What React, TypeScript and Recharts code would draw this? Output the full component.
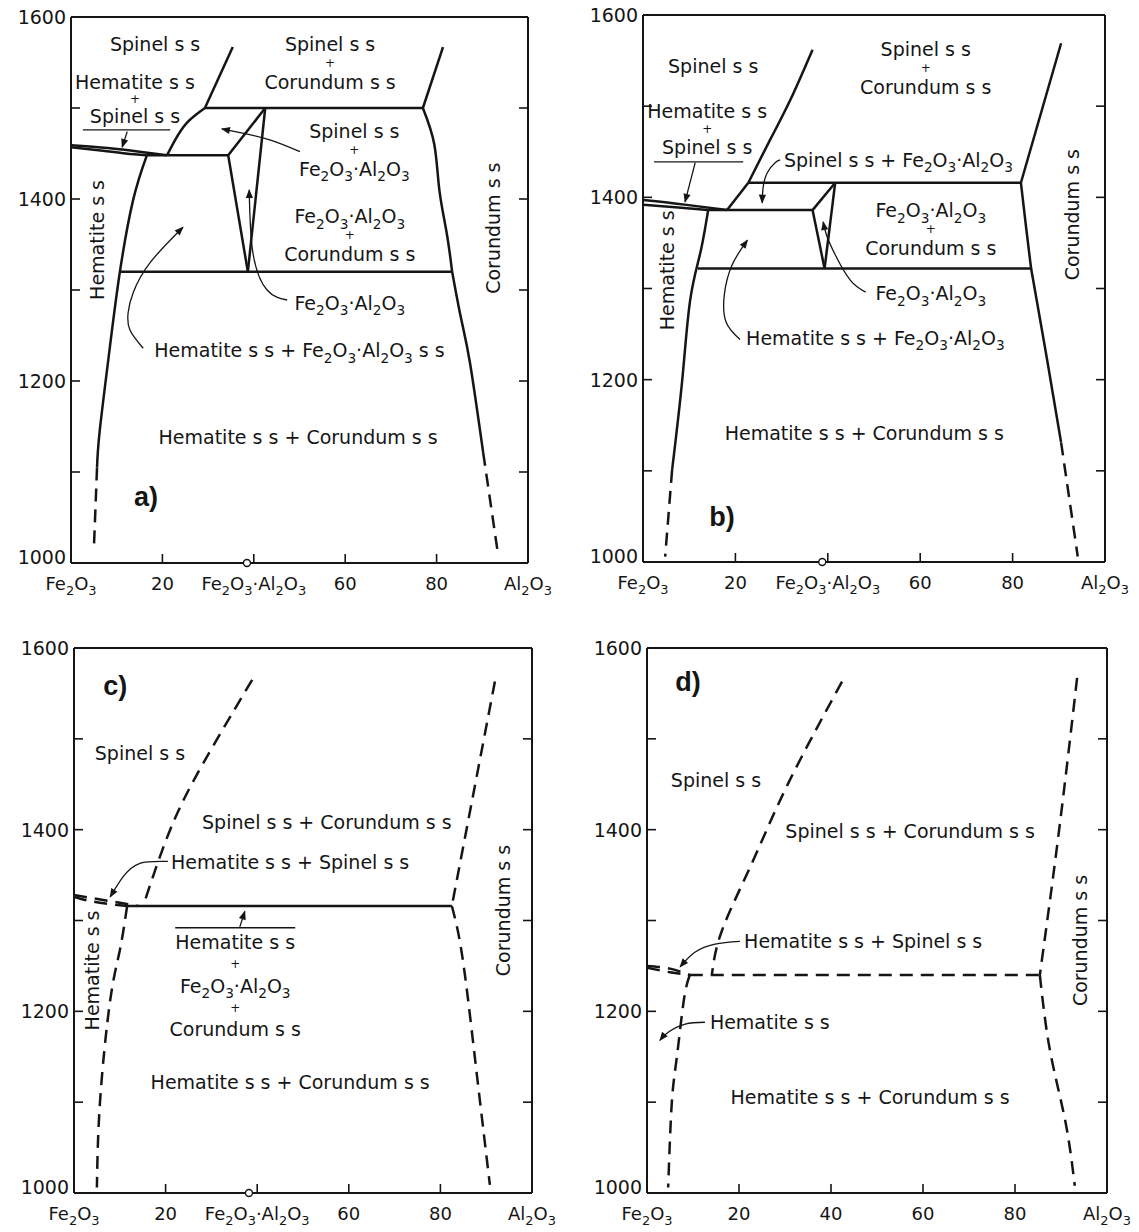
import React from 'react'
import { ComposedChart, Line, XAxis, YAxis, ReferenceDot } from 'recharts'

type Pt = [number, number]
type Kind = 'solid' | 'dash' | 'lead' | 'arrow'
interface Curve { d: Pt[]; kind: Kind; smooth?: boolean }
interface Tag { x: number; t: number; lines: string[]; rot?: boolean; big?: boolean; lh?: number }

const INK = '#151515'
const FONT = '"DejaVu Sans", sans-serif'

// axes
const xTicks = [0, 20, 40, 60, 80, 100]
const innerXTicks = [20, 40, 60, 80]
const yTicks = [1000, 1100, 1200, 1300, 1400, 1500, 1600]
const yLabelValues = [1000, 1200, 1400, 1600]
const xLabelsCompound = ['Fe2O3', '20', 'Fe2O3·Al2O3', '60', '80', 'Al2O3']
const xLabelsPlain = ['Fe2O3', '20', '40', '60', '80', 'Al2O3']

// ---- panel a (wt % Al2O3, °C) ----
const aSpinelUpper: Pt[] = [[35.4, 1567], [29.3, 1500]]
const aSpinelLower: Pt[] = [[29.3, 1500], [25.4, 1484], [22.8, 1465], [21.0, 1448]]
const aLensTop: Pt[] = [[0, 1459], [8, 1456], [15, 1452], [21.0, 1448]]
const aLensBottom: Pt[] = [[0, 1457], [7, 1453], [12, 1450], [16.6, 1448]]
const aLine1450: Pt[] = [[16.6, 1448], [34.4, 1448]]
const aHematite: Pt[] = [[16.6, 1448], [13.6, 1399], [10.7, 1320], [8.5, 1237], [6.3, 1146], [5.7, 1105]]
const aHematiteDash: Pt[] = [[5.7, 1105], [5.0, 1015]]
const aFAUpper: Pt[] = [[34.4, 1448], [42.5, 1500]]
const aFALeft: Pt[] = [[34.4, 1448], [38.7, 1320]]
const aFARight: Pt[] = [[42.5, 1500], [38.7, 1320]]
const aLine1500: Pt[] = [[29.3, 1500], [77, 1500]]
const aLine1320: Pt[] = [[10.7, 1320], [83.4, 1320]]
const aCorundumUpper: Pt[] = [[81.4, 1567], [77, 1500]]
const aCorundumMid: Pt[] = [[77, 1500], [79.5, 1460], [80.6, 1410], [82.2, 1363], [83.4, 1320]]
const aCorundumLow: Pt[] = [[83.4, 1320], [85.3, 1270], [87.3, 1220], [90.2, 1121]]
const aCorundumDash: Pt[] = [[90.2, 1121], [93.4, 1011]]
const aUnderline: Pt[] = [[2.6, 1476], [21.7, 1476]]
const aLeadLens: Pt[] = [[12.3, 1474], [11.2, 1457]]
const aLeadSpFA: Pt[] = [[50.1, 1452], [43.5, 1465], [37, 1473], [33.0, 1477]]
const aLeadFA: Pt[] = [[47.3, 1289], [42.9, 1300], [39.8, 1341], [39.0, 1410]]
const aLeadHemFA: Pt[] = [[15.8, 1236], [12.9, 1256], [12.5, 1275], [13.6, 1297], [17.3, 1330], [24.5, 1369]]

const aTags: Tag[] = [
  { x: 18.4, t: 1570, lines: ['Spinel s s'] },
  { x: 14.0, t: 1510, lines: ['Hematite s s', '+', 'Spinel s s'], lh: 17 },
  { x: 56.7, t: 1549, lines: ['Spinel s s', '+', 'Corundum s s'] },
  { x: 62, t: 1454, lines: ['Spinel s s', '+', 'Fe2O3·Al2O3'] },
  { x: 61, t: 1360, lines: ['Fe2O3·Al2O3', '+', 'Corundum s s'] },
  { x: 61, t: 1286, lines: ['Fe2O3·Al2O3'] },
  { x: 50, t: 1234, lines: ['Hematite s s + Fe2O3·Al2O3 s s'] },
  { x: 49.7, t: 1138, lines: ['Hematite s s + Corundum s s'] },
  { x: 5.7, t: 1355, lines: ['Hematite s s'], rot: true },
  { x: 92.3, t: 1368, lines: ['Corundum s s'], rot: true },
  { x: 16.4, t: 1073, lines: ['a)'], big: true },
]

// ---- panel b ----
const bSpinel: Pt[] = [[36.7, 1562], [31.9, 1507], [27.5, 1463], [22.8, 1416]]
const bSpinelLow: Pt[] = [[22.8, 1416], [18.2, 1386]]
const bLine1416: Pt[] = [[22.8, 1416], [81.8, 1416]]
const bLine1386: Pt[] = [[14.1, 1386], [36.7, 1386]]
const bLensTop: Pt[] = [[0, 1397], [9, 1392], [18.2, 1386]]
const bLensBottom: Pt[] = [[0, 1392], [7, 1389], [14.1, 1386]]
const bHematite: Pt[] = [[14.1, 1386], [12.4, 1339], [10.2, 1287], [8.5, 1200], [6.3, 1101]]
const bHematiteDash: Pt[] = [[6.3, 1101], [4.8, 1006]]
const bFAUpper: Pt[] = [[36.7, 1386], [41.6, 1416]]
const bFALeft: Pt[] = [[36.7, 1386], [39.3, 1322]]
const bFARight: Pt[] = [[41.6, 1416], [39.3, 1322]]
const bLine1322: Pt[] = [[11.9, 1322], [84.0, 1322]]
const bCorundumUpper: Pt[] = [[90.5, 1569], [81.8, 1416]]
const bCorundumMid: Pt[] = [[81.8, 1416], [82.9, 1368], [84.0, 1322]]
const bCorundumLow: Pt[] = [[84.0, 1322], [84.6, 1305], [87.6, 1218], [90.5, 1131]]
const bCorundumDash: Pt[] = [[90.5, 1131], [94.1, 1006]]
const bUnderline: Pt[] = [[2.4, 1439], [21.7, 1439]]
const bLeadLens: Pt[] = [[11.3, 1438], [9.1, 1395]]
const bLeadSpFA: Pt[] = [[29.7, 1441], [28.6, 1438], [26.9, 1427], [26.0, 1411], [25.8, 1394]]
const bLeadFA: Pt[] = [[48.2, 1296], [44.9, 1309], [41.6, 1337], [39.7, 1359], [39.0, 1373]]
const bLeadHemFA: Pt[] = [[21.0, 1244], [18.0, 1263], [17.6, 1293], [19.3, 1326], [22.6, 1353]]

const bTags: Tag[] = [
  { x: 15.2, t: 1544, lines: ['Spinel s s'] },
  { x: 13.9, t: 1475, lines: ['Hematite s s', '+', 'Spinel s s'], lh: 18 },
  { x: 61.2, t: 1542, lines: ['Spinel s s', '+', 'Corundum s s'] },
  { x: 55.3, t: 1441, lines: ['Spinel s s + Fe2O3·Al2O3'] },
  { x: 62.3, t: 1365, lines: ['Fe2O3·Al2O3', '+', 'Corundum s s'] },
  { x: 62.3, t: 1295, lines: ['Fe2O3·Al2O3'] },
  { x: 50.3, t: 1246, lines: ['Hematite s s + Fe2O3·Al2O3'] },
  { x: 47.9, t: 1141, lines: ['Hematite s s + Corundum s s'] },
  { x: 5.2, t: 1320, lines: ['Hematite s s'], rot: true },
  { x: 92.8, t: 1381, lines: ['Corundum s s'], rot: true },
  { x: 17.1, t: 1050, lines: ['b)'], big: true },
]

// ---- panel c ----
const cSpinelDash: Pt[] = [[38.9, 1565], [28.2, 1473], [21, 1400], [15.1, 1316]]
const cLine1316: Pt[] = [[11.6, 1316], [82.5, 1316]]
const cLensTop: Pt[] = [[0, 1328], [7, 1322], [14, 1316]]
const cLensBottom: Pt[] = [[0, 1326], [5, 1320], [11.6, 1316]]
const cHematiteDash: Pt[] = [[11.6, 1316], [10, 1267], [7.9, 1212], [5.7, 1102], [5.0, 1006]]
const cCorundumUpper: Pt[] = [[91.9, 1563], [82.5, 1316]]
const cCorundumLow: Pt[] = [[82.5, 1316], [84.8, 1260], [87.6, 1146], [90.8, 1009]]
const cLeadHemSp: Pt[] = [[20.5, 1365], [14.4, 1363], [10.7, 1348], [7.9, 1326]]
const cOverline: Pt[] = [[22.1, 1292], [48.3, 1292]]
const cLeadStack: Pt[] = [[36.2, 1293], [37.3, 1310]]

const cTags: Tag[] = [
  { x: 9, t: 1559, lines: ['c)'], big: true },
  { x: 14.4, t: 1484, lines: ['Spinel s s'] },
  { x: 55.2, t: 1408, lines: ['Spinel s s + Corundum s s'] },
  { x: 47.2, t: 1364, lines: ['Hematite s s + Spinel s s'] },
  { x: 35.2, t: 1228, lines: ['Hematite s s', '+', 'Fe2O3·Al2O3', '+', 'Corundum s s'], lh: 21.7 },
  { x: 47.2, t: 1122, lines: ['Hematite s s + Corundum s s'] },
  { x: 3.9, t: 1245, lines: ['Hematite s s'], rot: true },
  { x: 93.7, t: 1311, lines: ['Corundum s s'], rot: true },
]

// ---- panel d ----
const dSpinelDash: Pt[] = [[42.4, 1563], [30.7, 1451], [22.8, 1363], [16.3, 1289], [14.1, 1240]]
const dLine1240: Pt[] = [[9.3, 1240], [85.4, 1240]]
const dLensTop: Pt[] = [[0, 1250], [5, 1247], [9.3, 1240]]
const dLensBottom: Pt[] = [[0, 1248], [5, 1243], [9.3, 1240]]
const dHematiteDash: Pt[] = [[9.3, 1240], [8.0, 1212], [6.5, 1150], [5.4, 1100], [4.6, 1006]]
const dCorundumUpper: Pt[] = [[93.5, 1567], [89.6, 1400], [85.4, 1240]]
const dCorundumLow: Pt[] = [[85.4, 1240], [87.6, 1157], [90.9, 1080], [93, 1008]]
const dLeadHemSp: Pt[] = [[20.2, 1277], [14.8, 1274], [10.4, 1265], [7.2, 1249]]
const dLeadHem: Pt[] = [[12.6, 1188], [8.3, 1186], [4.6, 1177], [2.8, 1168]]

const dTags: Tag[] = [
  { x: 8.9, t: 1563, lines: ['d)'], big: true },
  { x: 15, t: 1454, lines: ['Spinel s s'] },
  { x: 57.2, t: 1398, lines: ['Spinel s s + Corundum s s'] },
  { x: 47, t: 1277, lines: ['Hematite s s + Spinel s s'] },
  { x: 26.7, t: 1188, lines: ['Hematite s s'] },
  { x: 48.5, t: 1106, lines: ['Hematite s s + Corundum s s'] },
  { x: 94.1, t: 1278, lines: ['Corundum s s'], rot: true },
]

const aCurves: Curve[] = [
  { d: aSpinelUpper, kind: 'solid' },
  { d: aSpinelLower, kind: 'solid', smooth: true },
  { d: aLensTop, kind: 'solid', smooth: true },
  { d: aLensBottom, kind: 'solid', smooth: true },
  { d: aLine1450, kind: 'solid' },
  { d: aHematite, kind: 'solid', smooth: true },
  { d: aHematiteDash, kind: 'dash' },
  { d: aFAUpper, kind: 'solid' },
  { d: aFALeft, kind: 'solid' },
  { d: aFARight, kind: 'solid' },
  { d: aLine1500, kind: 'solid' },
  { d: aLine1320, kind: 'solid' },
  { d: aCorundumUpper, kind: 'solid' },
  { d: aCorundumMid, kind: 'solid', smooth: true },
  { d: aCorundumLow, kind: 'solid', smooth: true },
  { d: aCorundumDash, kind: 'dash' },
  { d: aUnderline, kind: 'lead' },
  { d: aLeadLens, kind: 'arrow' },
  { d: aLeadSpFA, kind: 'arrow', smooth: true },
  { d: aLeadFA, kind: 'arrow', smooth: true },
  { d: aLeadHemFA, kind: 'arrow', smooth: true },
]

const bCurves: Curve[] = [
  { d: bSpinel, kind: 'solid', smooth: true },
  { d: bSpinelLow, kind: 'solid' },
  { d: bLine1416, kind: 'solid' },
  { d: bLine1386, kind: 'solid' },
  { d: bLensTop, kind: 'solid', smooth: true },
  { d: bLensBottom, kind: 'solid', smooth: true },
  { d: bHematite, kind: 'solid', smooth: true },
  { d: bHematiteDash, kind: 'dash' },
  { d: bFAUpper, kind: 'solid' },
  { d: bFALeft, kind: 'solid' },
  { d: bFARight, kind: 'solid' },
  { d: bLine1322, kind: 'solid' },
  { d: bCorundumUpper, kind: 'solid' },
  { d: bCorundumMid, kind: 'solid', smooth: true },
  { d: bCorundumLow, kind: 'solid', smooth: true },
  { d: bCorundumDash, kind: 'dash' },
  { d: bUnderline, kind: 'lead' },
  { d: bLeadLens, kind: 'arrow' },
  { d: bLeadSpFA, kind: 'arrow', smooth: true },
  { d: bLeadFA, kind: 'arrow', smooth: true },
  { d: bLeadHemFA, kind: 'arrow', smooth: true },
]

const cCurves: Curve[] = [
  { d: cSpinelDash, kind: 'dash', smooth: true },
  { d: cLine1316, kind: 'solid' },
  { d: cLensTop, kind: 'dash', smooth: true },
  { d: cLensBottom, kind: 'dash', smooth: true },
  { d: cHematiteDash, kind: 'dash', smooth: true },
  { d: cCorundumUpper, kind: 'dash' },
  { d: cCorundumLow, kind: 'dash', smooth: true },
  { d: cLeadHemSp, kind: 'arrow', smooth: true },
  { d: cOverline, kind: 'lead' },
  { d: cLeadStack, kind: 'arrow' },
]

const dCurves: Curve[] = [
  { d: dSpinelDash, kind: 'dash', smooth: true },
  { d: dLine1240, kind: 'dash' },
  { d: dLensTop, kind: 'dash', smooth: true },
  { d: dLensBottom, kind: 'dash', smooth: true },
  { d: dHematiteDash, kind: 'dash', smooth: true },
  { d: dCorundumUpper, kind: 'dash', smooth: true },
  { d: dCorundumLow, kind: 'dash', smooth: true },
  { d: dLeadHemSp, kind: 'arrow', smooth: true },
  { d: dLeadHem, kind: 'arrow', smooth: true },
]

// split "Fe2O3" into Fe, 2(sub), O, 3(sub)
function splitChem(s: string) {
  const out: { t: string; sub: boolean }[] = []
  const re = /([A-Za-z])(\d+)/g
  let last = 0
  let m: RegExpExecArray | null
  while ((m = re.exec(s))) {
    const end = m.index + 1
    out.push({ t: s.slice(last, end), sub: false })
    out.push({ t: m[2], sub: true })
    last = end + m[2].length
  }
  out.push({ t: s.slice(last), sub: false })
  return out.filter((p) => p.t)
}

function ChemText({ x, y, text, size, anchor = 'middle', weight = 400, family = FONT }: any) {
  const parts = splitChem(text)
  const shift = size * 0.3
  let sub = false
  return (
    <text x={x} y={y} textAnchor={anchor} fontSize={size} fontFamily={family} fontWeight={weight} fill={INK}>
      {parts.map((p, i) => {
        let dy = 0
        if (p.sub && !sub) dy = shift
        if (!p.sub && sub) dy = -shift
        sub = p.sub
        return (
          <tspan key={i} dy={dy || undefined} fontSize={p.sub ? size * 0.72 : undefined}>
            {p.t}
          </tspan>
        )
      })}
    </text>
  )
}

function TagShape({ cx, cy, tag }: { cx: number; cy: number; tag: Tag }) {
  const size = tag.big ? 27 : 19
  const lh = tag.lh ?? 19
  const n = tag.lines.length
  const body = tag.lines.map((line, i) => (
    <ChemText
      key={i}
      x={cx}
      y={cy + (i - (n - 1) / 2) * lh + (line === '+' ? 4 : size * 0.36)}
      text={line}
      size={line === '+' ? 12 : size}
      weight={tag.big ? 700 : 400}
      family={tag.big ? '"Liberation Sans", Arial, sans-serif' : FONT}
    />
  ))
  if (tag.rot) return <g transform={`rotate(-90 ${cx} ${cy})`}>{body}</g>
  return <g>{body}</g>
}

const bottomTick = (labels: string[]) => (p: any) => {
  const v = p.payload.value
  return (
    <g>
      {v > 0 && v < 100 && <line x1={p.x} x2={p.x} y1={p.y} y2={p.y - 9} stroke={INK} strokeWidth={1.6} />}
      <ChemText x={p.x} y={p.y + 27} text={labels[xTicks.indexOf(v)]} size={18} />
    </g>
  )
}

const topTick = (p: any) => (
  <line x1={p.x} x2={p.x} y1={p.y} y2={p.y + 9} stroke={INK} strokeWidth={1.6} />
)

const leftTick = (p: any) => {
  const v = p.payload.value
  // the bottom label sits a little above the corner, as in the original
  const lift = v === 1000 ? -6 : 0
  return (
    <g>
      {v > 1000 && v < 1600 && <line x1={p.x} x2={p.x + 9} y1={p.y} y2={p.y} stroke={INK} strokeWidth={1.6} />}
      {yLabelValues.includes(v) && (
        <text x={p.x - 5} y={p.y + 7 + lift} textAnchor="end" fontSize={19} fontFamily={FONT} fill={INK}>
          {v}
        </text>
      )}
    </g>
  )
}

const rightTick = (p: any) => {
  const v = p.payload.value
  if (v <= 1000 || v >= 1600) return <g />
  return <line x1={p.x} x2={p.x - 9} y1={p.y} y2={p.y} stroke={INK} strokeWidth={1.6} />
}

const frame = { stroke: INK, strokeWidth: 2 }

interface PanelProps {
  id: string
  left: number
  top: number
  w: number
  h: number
  plot: { top: number; left: number; right: number; bottom: number }
  curves: Curve[]
  tags: Tag[]
  xLabels: string[]
  compoundMark?: number
}

// axes get 1px boxes (a 0px box is not drawn), so margins are 1px smaller
function Panel({ id, left, top, w, h, plot, curves, tags, xLabels, compoundMark }: PanelProps) {
  const arrowId = `arrow-${id}`
  const margin = { top: plot.top - 1, left: plot.left - 1, right: plot.right - 1, bottom: plot.bottom - 1 }
  return (
    <div style={{ position: 'absolute', left, top }}>
      <ComposedChart width={w} height={h} margin={margin}>
        <defs>
          <marker id={arrowId} viewBox="0 0 10 10" refX="9" refY="5" markerWidth="10" markerHeight="9" markerUnits="userSpaceOnUse" orient="auto">
            <path d="M0,1 L10,5 L0,9 z" fill={INK} />
          </marker>
        </defs>
        <XAxis type="number" dataKey="x" domain={[0, 100]} ticks={xTicks} interval={0} height={1} tickSize={0} tickMargin={0} tickLine={false} axisLine={frame} tick={bottomTick(xLabels)} allowDataOverflow />
        <XAxis xAxisId="top" orientation="top" type="number" domain={[0, 100]} ticks={innerXTicks} interval={0} height={1} tickSize={0} tickMargin={0} tickLine={false} axisLine={frame} tick={topTick} allowDataOverflow />
        <YAxis type="number" domain={[1000, 1600]} ticks={yTicks} interval={0} width={1} tickSize={0} tickMargin={0} tickLine={false} axisLine={frame} tick={leftTick} allowDataOverflow />
        <YAxis yAxisId="right" orientation="right" type="number" domain={[1000, 1600]} ticks={yTicks} interval={0} width={1} tickSize={0} tickMargin={0} tickLine={false} axisLine={frame} tick={rightTick} allowDataOverflow />
        {curves.map((c, i) => {
          const thin = c.kind === 'lead' || c.kind === 'arrow'
          return (
            <Line
              key={i}
              data={c.d.map(([x, t]) => ({ x, t }))}
              dataKey="t"
              type={c.smooth ? 'natural' : 'linear'}
              stroke={INK}
              strokeWidth={thin ? 1.3 : 2.5}
              strokeDasharray={c.kind === 'dash' ? '13 8' : undefined}
              markerEnd={c.kind === 'arrow' ? `url(#${arrowId})` : undefined}
              dot={false}
              activeDot={false}
              legendType="none"
              isAnimationActive={false}
            />
          )
        })}
        {compoundMark !== undefined && (
          <ReferenceDot x={compoundMark} y={1000} r={3.5} fill="#fff" stroke={INK} strokeWidth={1.4} ifOverflow="visible" />
        )}
        {tags.map((tag, i) => (
          <ReferenceDot
            key={`t${i}`}
            x={tag.x}
            y={tag.t}
            r={0}
            ifOverflow="visible"
            shape={(p: any) => <TagShape cx={p.cx} cy={p.cy} tag={tag} />}
          />
        ))}
      </ComposedChart>
    </div>
  )
}

export default function App() {
  return (
    <div style={{ position: 'absolute', left: 0, top: 0, width: 1139, height: 1232, background: '#fff', overflow: 'hidden' }}>
      <Panel id="a" left={0} top={0} w={570} h={620} plot={{ top: 17, left: 71, right: 42, bottom: 57 }} curves={aCurves} tags={aTags} xLabels={xLabelsCompound} compoundMark={38.5} />
      <Panel id="b" left={572} top={0} w={567} h={620} plot={{ top: 15, left: 71, right: 34, bottom: 58 }} curves={bCurves} tags={bTags} xLabels={xLabelsCompound} compoundMark={38.8} />
      <Panel id="c" left={0} top={620} w={570} h={612} plot={{ top: 28, left: 74, right: 38, bottom: 39 }} curves={cCurves} tags={cTags} xLabels={xLabelsCompound} compoundMark={38.2} />
      <Panel id="d" left={572} top={620} w={567} h={612} plot={{ top: 28, left: 75, right: 32, bottom: 39 }} curves={dCurves} tags={dTags} xLabels={xLabelsPlain} />
    </div>
  )
}
